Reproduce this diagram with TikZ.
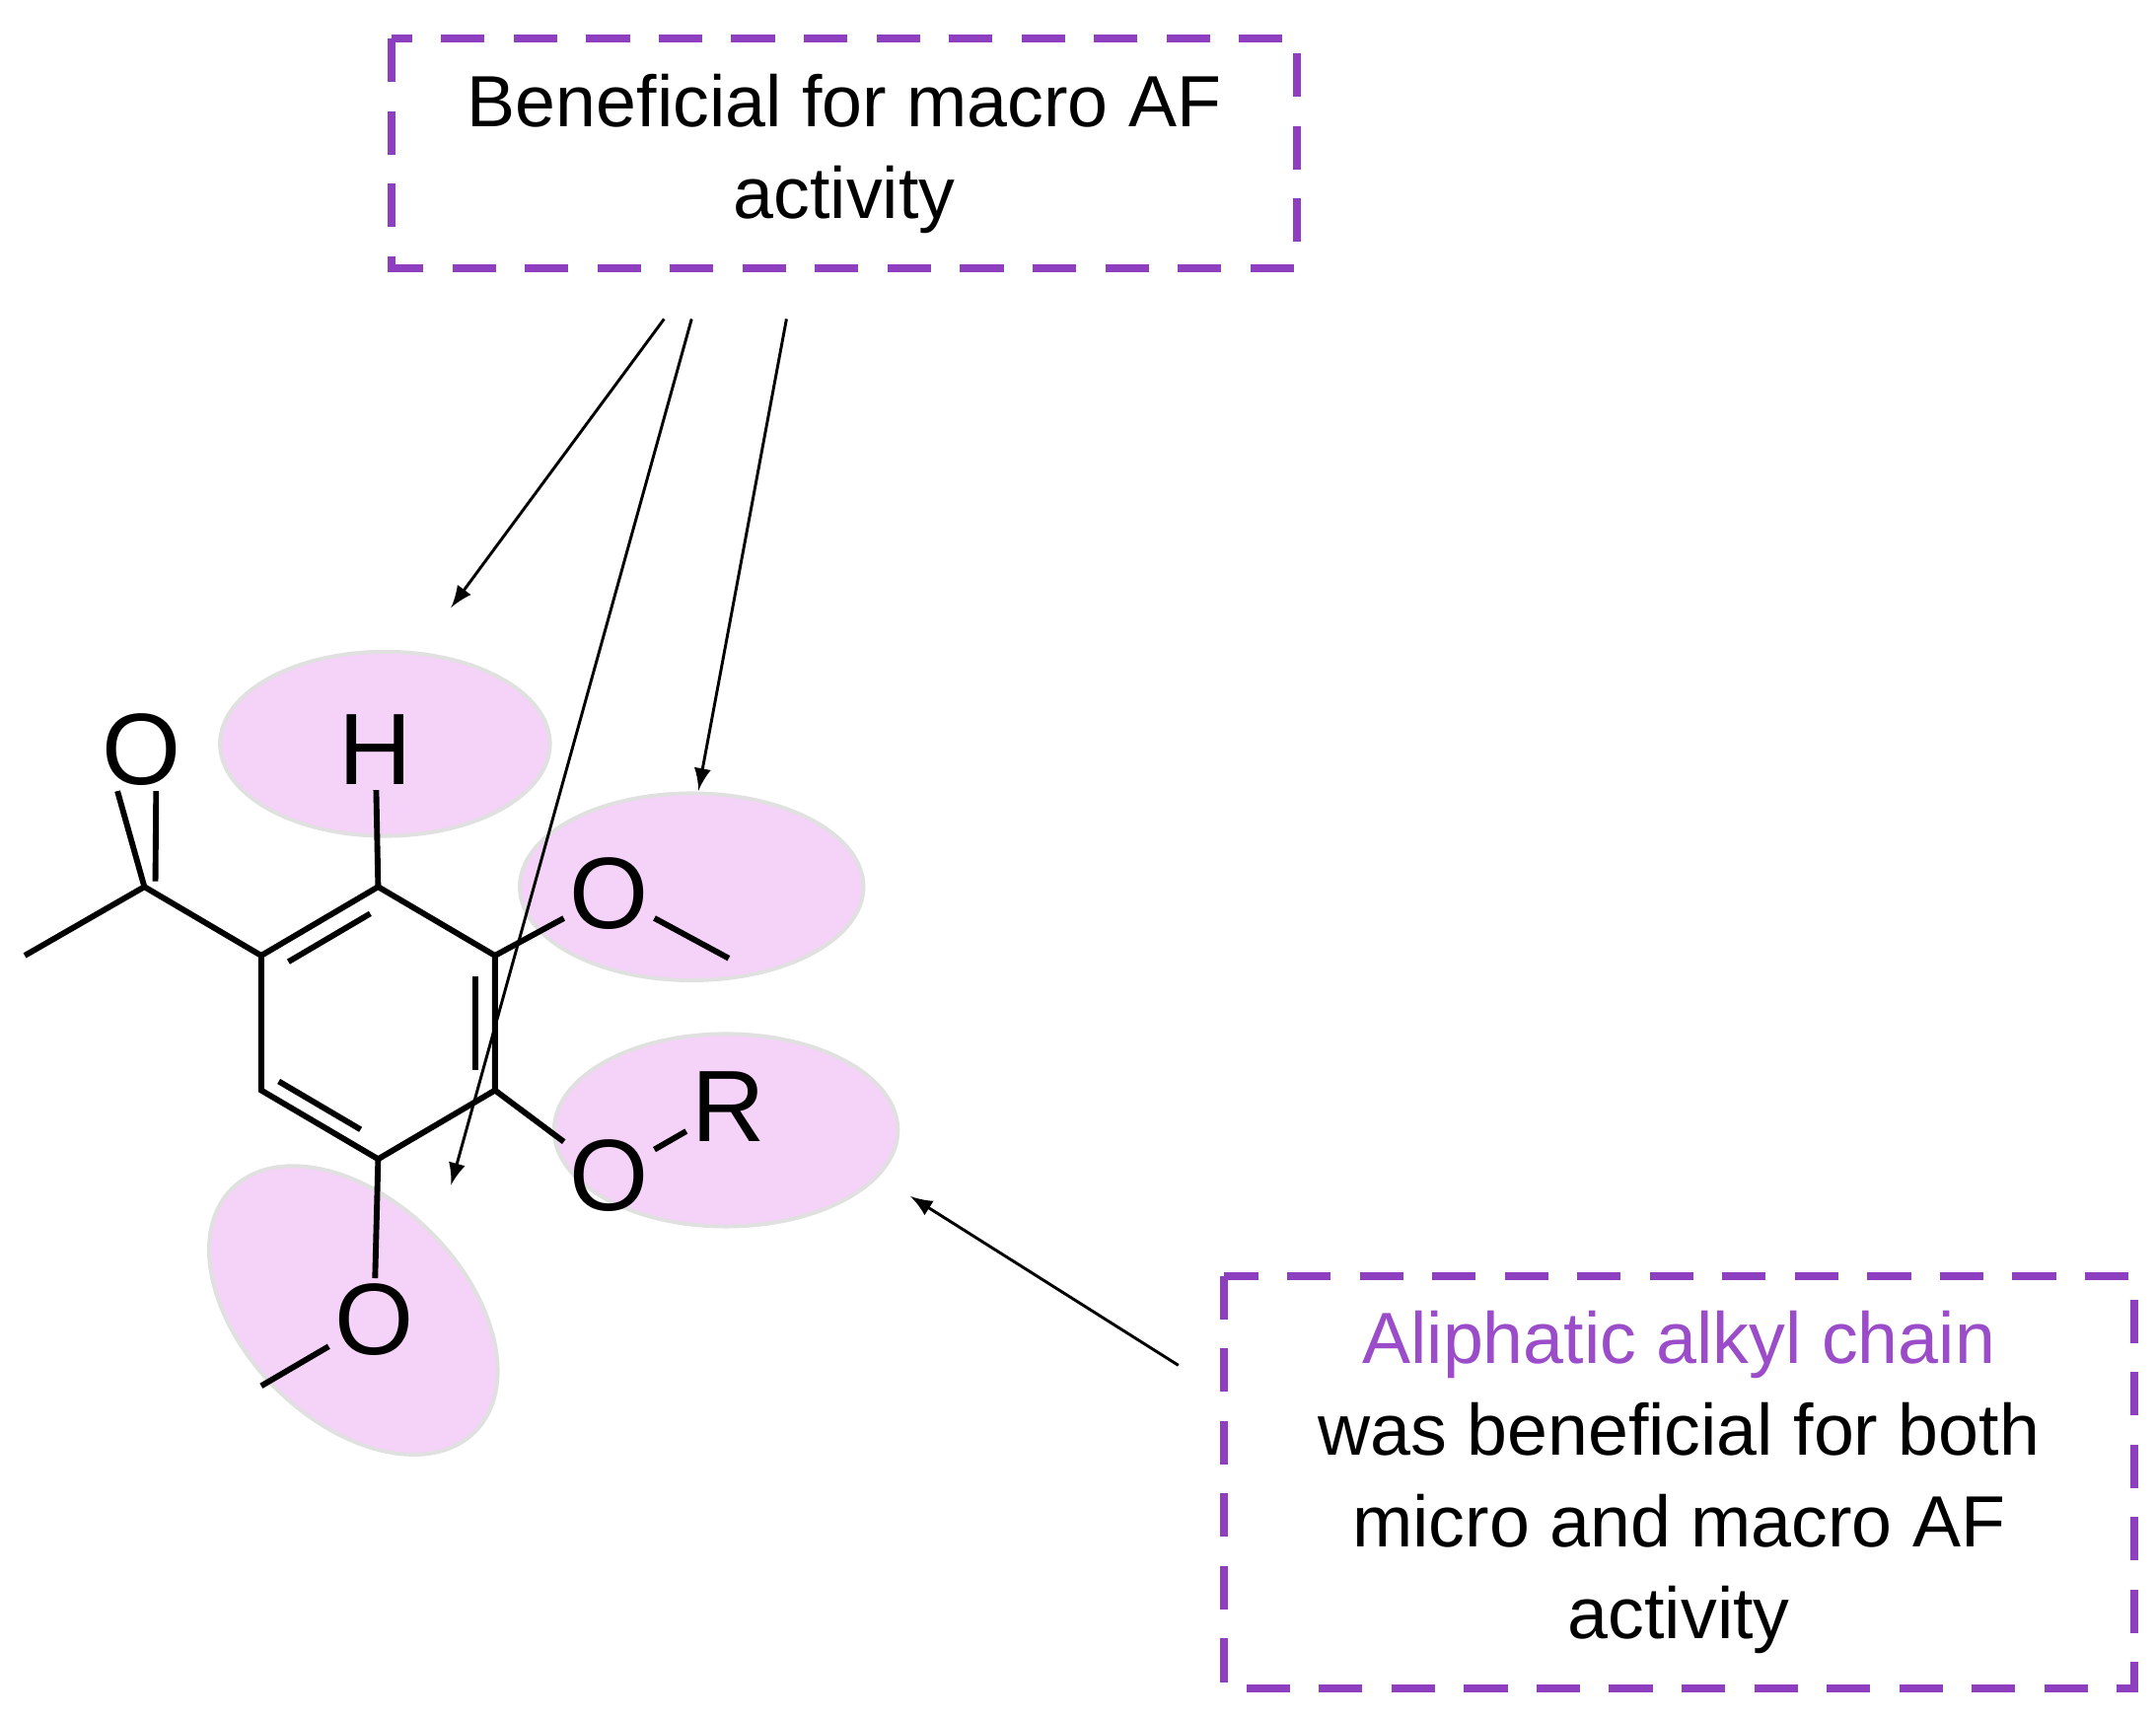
\documentclass[tikz,border=0pt]{standalone}
\usepackage{fontspec}
\setmainfont{Liberation Sans}
\usetikzlibrary{positioning,calc}
\definecolor{boxpurple}{HTML}{8E3FBF}
\definecolor{textpurple}{HTML}{9A4CC9}
\definecolor{blob}{HTML}{F5D3F9}
\tikzset{
	note/.style={draw=boxpurple, dashed, dash pattern=on 9pt off 6pt, line width=1.6pt, inner sep=0pt},
	atom/.style={inner sep=1pt, font=\fontsize{21}{24}\selectfont},
	bond/.style={line width=1.2pt},
	hint/.style={-latex, line width=0.6pt},
	spot/.style={fill=blob, draw=black!12, line width=0.8pt}
}
\begin{document}
\begin{tikzpicture}[x=0.01cm, y=-0.01cm]
	\useasboundingbox (0,0) rectangle (1568,1249);

	% Highlights:
	\draw[spot] (280,541) ellipse [x radius=120, y radius=67];
	\draw[spot] (503,645) ellipse [x radius=125, y radius=68];
	\draw[spot] (528,822) ellipse [x radius=125, y radius=70];
	\draw[spot, rotate around={-45:(257,953)}] (257,953) ellipse [x radius=125, y radius=80];

	% Boxes:
	\draw[note] (285,28) rectangle (943,195);
	\node[align=center, font=\fontsize{15}{19}\selectfont] (top) at (614,112) {Beneficial for macro AF\\activity};
	\draw[note] (890,928) rectangle (1552,1228);
	\node[align=center, font=\fontsize{15}{19}\selectfont] (side) at (1221,1078)
		{\textcolor{textpurple}{Aliphatic alkyl chain}\\was beneficial for both\\micro and macro AF\\activity};

	% Ring:
	\coordinate (c1) at (190,695);
	\coordinate (c2) at (275,645);
	\coordinate (c3) at (360,695);
	\coordinate (c4) at (360,793);
	\coordinate (c5) at (275,843);
	\coordinate (c6) at (190,793);
	\draw[bond] (c1) -- (c2) -- (c3) -- (c4) -- (c5) -- (c6) -- cycle;
	\draw[bond] ($(c1)!0.15!(c2)+(7,12)$) -- ($(c1)!0.85!(c2)+(7,12)$);
	\draw[bond] (346,710) -- (346,778);
	\draw[bond] ($(c5)!0.15!(c6)+(0,-14)$) -- ($(c5)!0.85!(c6)+(0,-14)$);

	% Substituents:
	\coordinate (co) at (105,645);
	\coordinate (me1) at (18,695);
	\node[atom] (o1) at (103,545) {O};
	\draw[bond] (c1) -- (co) -- (me1);
	\draw[bond] (co) -- ([xshift=-5]o1.south);
	\draw[bond] (co) ++(8,-4) -- ([xshift=3]o1.south);
	\node[atom] (h) at (273,545) {H};
	\draw[bond] (c2) -- (h);
	\node[atom] (o2) at (443,650) {O};
	\coordinate (me2) at (530,697);
	\draw[bond] (c3) -- (o2) -- (me2);
	\node[atom] (o3) at (443,855) {O};
	\node[atom] (r) at (530,805) {R};
	\draw[bond] (c4) -- (o3) -- (r);
	\node[atom] (o4) at (272,960) {O};
	\coordinate (me4) at (190,1008);
	\draw[bond] (c5) -- (o4) -- (me4);

	% Arrows:
	\draw[hint] (483,232) -- (328,442);
	\draw[hint] (503,232) -- (328,862);
	\draw[hint] (572,232) -- (508,575);
	\draw[hint] (857,993) -- (662,870);
\end{tikzpicture}
\end{document}
